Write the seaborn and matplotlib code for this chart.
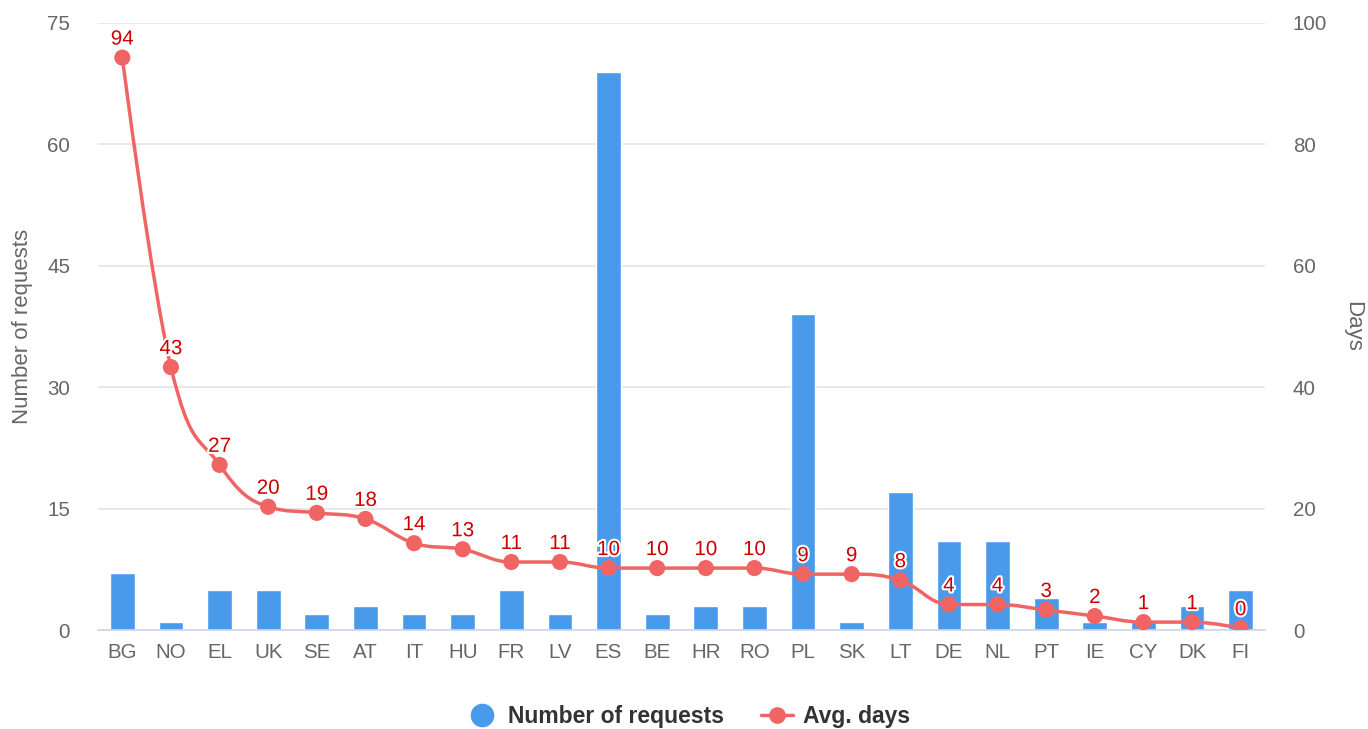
import numpy as np
import pandas as pd
import matplotlib
matplotlib.use('Agg')
import matplotlib.pyplot as plt
import matplotlib.patheffects as pe
from matplotlib.path import Path
from matplotlib.patches import PathPatch
from matplotlib.lines import Line2D
import seaborn as sns

countries = ['BG', 'NO', 'EL', 'UK', 'SE', 'AT', 'IT', 'HU', 'FR', 'LV', 'ES', 'BE',
             'HR', 'RO', 'PL', 'SK', 'LT', 'DE', 'NL', 'PT', 'IE', 'CY', 'DK', 'FI']
requests = [7, 1, 5, 5, 2, 3, 2, 2, 5, 2, 69, 2, 3, 3, 39, 1, 17, 11, 11, 4, 1, 1, 3, 5]
avg_days = [94.3, 43.3, 27.2, 20.3, 19.3, 18.3, 14.3, 13.3, 11.2, 11.2, 10.2, 10.2,
            10.2, 10.2, 9.2, 9.2, 8.2, 4.2, 4.2, 3.3, 2.3, 1.3, 1.3, 0.3]

BAR = '#4a9aec'
LINE = '#f06464'
LABEL = '#cc0000'
GREY = '#666666'

sns.set_style('white')
plt.rcParams['font.family'] = ['Liberation Sans', 'DejaVu Sans']

df = pd.DataFrame({'country': countries, 'requests': requests, 'days': avg_days})

fig = plt.figure(figsize=(13.68, 7.29), dpi=100)
ax = fig.add_axes([98 / 1368, 1 - 630 / 729, (1265 - 98) / 1368, (630 - 23) / 729])
sns.barplot(data=df, x='country', y='requests', color=BAR, saturation=1,
            width=0.51, ax=ax, zorder=2)
ax.set_xlim(-0.5, len(countries) - 0.5)
ax.set_ylim(0, 75)
ax.set_yticks(np.arange(0, 76, 15))
ax.yaxis.grid(True, color='#e6e6e6', linewidth=1.3, zorder=0)
ax.set_axisbelow(True)
for s in ['top', 'left', 'right']:
    ax.spines[s].set_visible(False)
ax.spines['bottom'].set_color('#ccd6eb')
ax.spines['bottom'].set_linewidth(1.2)
ax.tick_params(axis='both', length=0, labelsize=14.8, labelcolor=GREY)
ax.tick_params(axis='y', pad=20)
ax.tick_params(axis='x', pad=9)
ax.set_xlabel('')
ax.set_ylabel('Number of requests', fontsize=16, color=GREY, labelpad=10)

ax2 = ax.twinx()
ax2.set_ylim(0, 100)
ax2.set_yticks(np.arange(0, 101, 20))
ax2.tick_params(axis='y', length=0, labelsize=14.8, labelcolor=GREY, pad=20)
for s in ax2.spines.values():
    s.set_visible(False)
ax2.set_ylabel('Days', fontsize=16, color=GREY, rotation=270, labelpad=26)

# spline path through the points (highcharts-style control points)
xs = np.arange(len(countries), dtype=float)
ys = np.array(avg_days, dtype=float)
n = len(xs)
left_c = [(xs[0], ys[0])] * n
right_c = [(xs[0], ys[0])] * n
sm = 1.5
den = sm + 1
for i in range(n):
    if i == 0 or i == n - 1:
        left_c[i] = (xs[i], ys[i])
        right_c[i] = (xs[i], ys[i])
        continue
    lx = (sm * xs[i] + xs[i - 1]) / den
    ly = (sm * ys[i] + ys[i - 1]) / den
    rx = (sm * xs[i] + xs[i + 1]) / den
    ry = (sm * ys[i] + ys[i + 1]) / den
    corr = ((ry - ly) * (rx - xs[i])) / (rx - lx) + ys[i] - ry
    ly += corr
    ry += corr
    py, lasty, nexty = ys[i], ys[i - 1], ys[i + 1]
    if ly > lasty and ly > py:
        ly = max(lasty, py)
        ry = 2 * py - ly
    elif ly < lasty and ly < py:
        ly = min(lasty, py)
        ry = 2 * py - ly
    if ry > nexty and ry > py:
        ry = max(nexty, py)
        ly = 2 * py - ry
    elif ry < nexty and ry < py:
        ry = min(nexty, py)
        ly = 2 * py - ry
    left_c[i] = (lx, ly)
    right_c[i] = (rx, ry)

verts = [(xs[0], ys[0])]
codes = [Path.MOVETO]
for i in range(1, n):
    verts += [right_c[i - 1], left_c[i], (xs[i], ys[i])]
    codes += [Path.CURVE4] * 3
ax2.add_patch(PathPatch(Path(verts, codes), facecolor='none', edgecolor=LINE,
                        linewidth=2.5, zorder=3, capstyle='round'))
sns.scatterplot(x=xs, y=ys, color=LINE, s=135, edgecolor='none', ax=ax2,
                zorder=4, legend=False)
ax2.set_xlim(-0.5, len(countries) - 0.5)

for x, y in zip(xs, ys):
    t = ax2.annotate(f'{y:.0f}', (x, y), xytext=(0, 6.5), textcoords='offset points',
                     ha='center', va='bottom', fontsize=14.8, color=LABEL, zorder=5)
    t.set_path_effects([pe.withStroke(linewidth=3, foreground='white')])

handles = [
    Line2D([], [], linestyle='none', marker='o', markersize=16, color=BAR),
    Line2D([], [], color=LINE, linewidth=2.5, marker='o', markersize=11),
]
leg = fig.legend(handles, ['Number of requests', 'Avg. days'], loc='center',
                 bbox_to_anchor=(0.503, 1 - 717 / 729), ncol=2, frameon=False,
                 handlelength=1.4, handletextpad=0.45, columnspacing=1.6,
                 prop={'size': 16.5, 'weight': 'bold'})
for txt in leg.get_texts():
    txt.set_color('#333333')

fig.savefig('out.png', dpi=100)
